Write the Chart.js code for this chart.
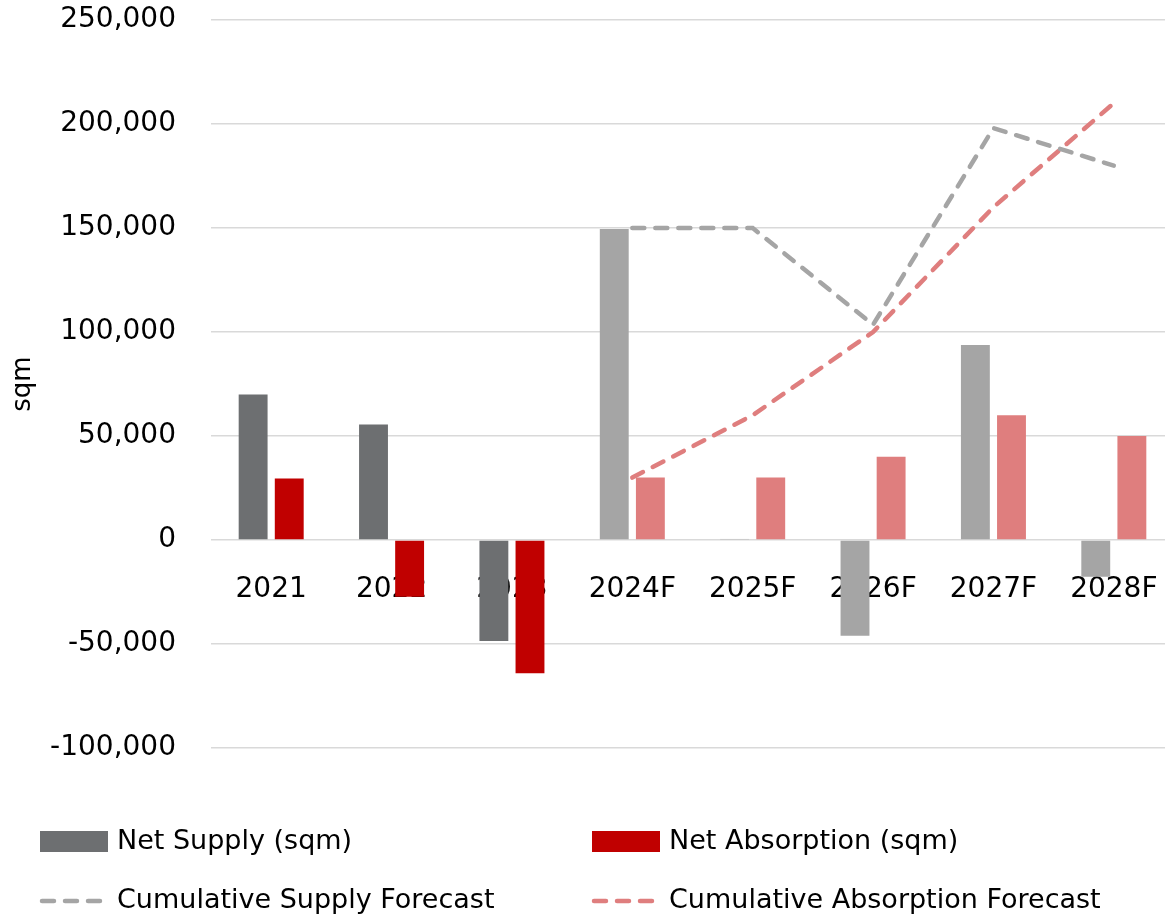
<!DOCTYPE html>
<html>
<head>
<meta charset="utf-8">
<script src="https://cdn.jsdelivr.net/npm/chart.js@4.4.1/dist/chart.umd.min.js"></script>
<style>
  html, body { margin: 0; padding: 0; background: #fff; overflow: hidden; }
  #wrap { width: 1175px; height: 918px; }
</style>
</head>
<body>
<div id="wrap"><canvas id="chart" width="1175" height="918"></canvas></div>
<script>
const categories = ['2021', '2022', '2023', '2024F', '2025F', '2026F', '2027F', '2028F'];
const netSupply = [70000, 55500, -48500, 149500, 500, -46000, 93700, -17700];
const netAbsorption = [29600, -27300, -64100, 30000, 30000, 40000, 60000, 50000];
const cumSupply = [null, null, null, 150000, 150000, 103500, 198000, 180000];
const cumAbsorption = [null, null, null, 30000, 60000, 100000, 160000, 210000];
const yTicks = [-100000, -50000, 0, 50000, 100000, 150000, 200000, 250000];

const FONT = "'DejaVu Sans', sans-serif";
const firstForecast = 3;

const supplyColors = categories.map((c, i) => i < firstForecast ? '#6d6f71' : '#a5a5a5');
const absorptionColors = categories.map((c, i) => i < firstForecast ? '#c00000' : '#df7e7e');

const legendItems = [
    { text: 'Net Supply (sqm)', kind: 'box', color: '#6d6f71', x: 40, y: 842 },
    { text: 'Net Absorption (sqm)', kind: 'box', color: '#c00000', x: 592, y: 842 },
    { text: 'Cumulative Supply Forecast', kind: 'dash', color: '#a5a5a5', x: 40, y: 901 },
    { text: 'Cumulative Absorption Forecast', kind: 'dash', color: '#df7e7e', x: 592, y: 901 },
];

// legend drawn by hand so the two columns line up like the original
const bottomLegend = {
    id: 'bottomLegend',
    afterDraw(chart) {
        const ctx = chart.ctx;
        ctx.save();
        legendItems.forEach(item => {
            if (item.kind === 'box') {
                ctx.fillStyle = item.color;
                ctx.fillRect(item.x, item.y - 11, 68, 21);
            } else {
                ctx.strokeStyle = item.color;
                ctx.lineWidth = 4.5;
                ctx.lineCap = 'round';
                ctx.setLineDash([12, 11]);
                ctx.beginPath();
                ctx.moveTo(item.x + 2, item.y);
                ctx.lineTo(item.x + 62, item.y);
                ctx.stroke();
                ctx.setLineDash([]);
            }
            ctx.fillStyle = '#000';
            ctx.font = '27px ' + FONT;
            ctx.textBaseline = 'middle';
            ctx.textAlign = 'left';
            ctx.fillText(item.text, item.x + 77, item.y);
        });
        ctx.restore();
    }
};

new Chart(document.getElementById('chart'), {
    type: 'bar',
    data: {
        labels: categories,
        datasets: [
            {
                type: 'line',
                label: 'Cumulative Supply Forecast',
                data: cumSupply,
                borderColor: '#a5a5a5',
                borderWidth: 4.5,
                borderDash: [12, 11],
                borderCapStyle: 'round',
                pointRadius: 0,
                fill: false,
                tension: 0,
                order: 0,
            },
            {
                type: 'line',
                label: 'Cumulative Absorption Forecast',
                data: cumAbsorption,
                borderColor: '#df7e7e',
                borderWidth: 4.5,
                borderDash: [12, 11],
                borderCapStyle: 'round',
                pointRadius: 0,
                fill: false,
                tension: 0,
                order: 0,
            },
            {
                label: 'Net Supply (sqm)',
                data: netSupply,
                backgroundColor: supplyColors,
                barPercentage: 0.8,
                categoryPercentage: 0.6,
                order: 1,
            },
            {
                label: 'Net Absorption (sqm)',
                data: netAbsorption,
                backgroundColor: absorptionColors,
                barPercentage: 0.8,
                categoryPercentage: 0.6,
                order: 1,
            },
        ],
    },
    options: {
        responsive: false,
        animation: false,
        layout: { padding: { top: 20, bottom: 170, left: 0, right: 1 } },
        plugins: {
            legend: { display: false },
            tooltip: { enabled: false },
        },
        scales: {
            x: {
                position: { y: 0 },
                // invisible tick marks give the label offset without padding the chart area
                grid: {
                    drawOnChartArea: false,
                    drawTicks: true,
                    tickLength: 33,
                    tickColor: 'rgba(0,0,0,0)',
                    color: 'rgba(0,0,0,0)',
                },
                border: { display: false },
                ticks: {
                    color: '#000',
                    font: { family: FONT, size: 28 },
                    padding: 0,
                    maxRotation: 0,
                    autoSkip: false,
                },
            },
            y: {
                min: -100000,
                max: 250000,
                afterBuildTicks: (scale) => {
                    scale.ticks = yTicks.map(v => ({ value: v }));
                },
                afterFit: (scale) => {
                    scale.width = 211;
                },
                grid: {
                    color: '#d9d9d9',
                    lineWidth: 1.5,
                    drawTicks: true,
                    tickLength: 35,
                    tickColor: 'rgba(0,0,0,0)',
                },
                border: { display: false },
                ticks: {
                    color: '#000',
                    font: { family: FONT, size: 28 },
                    padding: 0,
                    callback: (v) => v.toLocaleString('en-US'),
                },
                title: {
                    display: true,
                    text: 'sqm',
                    color: '#000',
                    font: { family: FONT, size: 26 },
                    padding: { top: 8, bottom: 0 },
                },
            },
        },
    },
    plugins: [bottomLegend],
});
</script>
</body>
</html>
